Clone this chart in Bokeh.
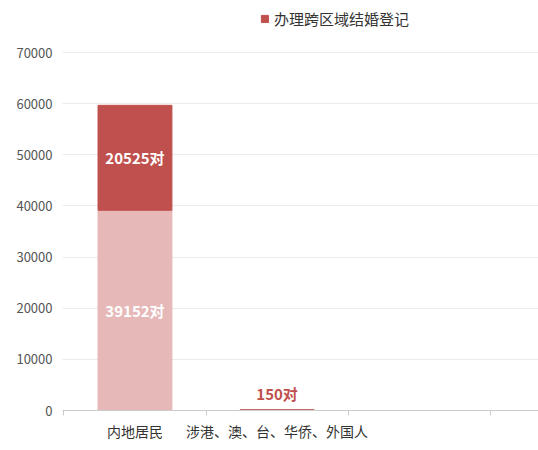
from bokeh.plotting import figure
from bokeh.models import ColumnDataSource, FixedTicker, Legend, LegendItem
from bokeh.core.properties import value
from bokeh.embed import file_html
from bokeh.resources import INLINE

# data
categories = ["内地居民", "涉港、澳、台、华侨、外国人"]
local_pairs = [39152, 0]
cross_pairs = [20525, 150]
series_name = "办理跨区域结婚登记"
y_ticks = [0, 10000, 20000, 30000, 40000, 50000, 60000, 70000]

FONT = "Noto Sans CJK SC"
PINK = "#e6b8b7"
RED = "#c0504d"

xs = list(range(len(categories)))
src = ColumnDataSource(dict(
    x=xs,
    local_top=local_pairs,
    cross_top=[a + b for a, b in zip(local_pairs, cross_pairs)],
))

# y range goes a bit past 70000 so the legend sits above the top gridline
p = figure(width=538, height=446, x_range=(-0.51, 2.84), y_range=(0, 79000),
           output_backend="svg", toolbar_location=None,
           min_border_left=62, min_border_right=0, min_border_top=6, min_border_bottom=36)
p.outline_line_color = None

# stacked bars
r_local = p.vbar(x="x", bottom=0, top="local_top", width=0.52, color=PINK, source=src)
r_cross = p.vbar(x="x", bottom="local_top", top="cross_top", width=0.52, color=RED, source=src)

# labels inside big bar
big = ColumnDataSource(dict(
    x=[xs[0], xs[0]],
    y=[local_pairs[0] / 2, local_pairs[0] + cross_pairs[0] / 2],
    t=[f"{local_pairs[0]}对", f"{cross_pairs[0]}对"],
))
p.text(x="x", y="y", text="t", source=big, text_color="white",
       text_font=value(FONT), text_font_style="bold", text_font_size="15px",
       text_align="center", text_baseline="middle")

# label above small bar
small = ColumnDataSource(dict(x=[xs[1]], y=[local_pairs[1] + cross_pairs[1]],
                              t=[f"{cross_pairs[1]}对"]))
p.text(x="x", y="y", text="t", source=small, text_color=RED,
       text_font=value(FONT), text_font_style="bold", text_font_size="15px",
       text_align="center", text_baseline="bottom", y_offset=-6)

# axes
p.xaxis.ticker = FixedTicker(ticks=xs, minor_ticks=[-0.5, 0.5, 1.5, 2.5])
p.xaxis.major_label_overrides = {x: c for x, c in zip(xs, categories)}
p.xaxis.major_tick_line_color = None
p.xaxis.major_tick_out = 0
p.xaxis.minor_tick_in = 0
p.xaxis.minor_tick_out = 5
p.xaxis.minor_tick_line_color = "#cccccc"
p.xaxis.axis_line_color = "#cccccc"
p.xaxis.major_label_text_font = FONT
p.xaxis.major_label_text_font_size = "14px"
p.xaxis.major_label_text_color = "#333333"
p.xaxis.major_label_standoff = 5

p.yaxis.ticker = FixedTicker(ticks=y_ticks)
p.yaxis.axis_line_color = None
p.yaxis.major_tick_line_color = None
p.yaxis.major_tick_out = 0
p.yaxis.minor_tick_line_color = None
p.yaxis.major_label_text_font = FONT
p.yaxis.major_label_text_font_size = "13px"
p.yaxis.major_label_text_color = "#555555"
p.yaxis.major_label_standoff = 10

p.xgrid.grid_line_color = None
p.ygrid.grid_line_color = "#ebebeb"

# legend inside the frame, above the 70000 line
legend = Legend(items=[LegendItem(label=series_name, renderers=[r_cross])],
                location=(198, 381), orientation="horizontal",
                label_text_font=FONT, label_text_font_size="15px",
                label_text_color="#333333", glyph_width=9, glyph_height=9,
                padding=2, margin=0, border_line_color=None, background_fill_alpha=0)
p.add_layout(legend)

open("out.html", "w").write(file_html(p, INLINE))
